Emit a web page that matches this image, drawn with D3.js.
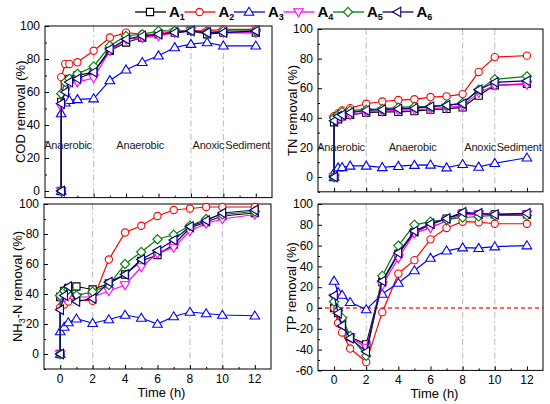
<!DOCTYPE html>
<html>
<head>
<meta charset="utf-8">
<script src="https://cdn.jsdelivr.net/npm/d3@7"></script>
<style>
  body { margin: 0; background: #fff; }
  svg text { font-family: "Liberation Sans", Arial, sans-serif; }
</style>
</head>
<body>
<div id="chart"></div>
<script>
// sampling times (h); the first two points of COD/TN/NH3 are both at t = 0
var timeA = [0, 0, 0.25, 0.5, 1, 2, 3, 4, 5, 6, 7, 8, 9, 10, 12];
var timeP = [0, 0.25, 0.5, 1, 2, 3, 4, 5, 6, 7, 8, 9, 10, 12];

var seriesNames = ["A1", "A2", "A3", "A4", "A5", "A6"];

// removal (%) per series A1..A6
var cod = [
  [0, 54, 63, 68, 70, 72, 85, 90, 93, 95, 96, 97, 95, 96, 96],
  [0, 69, 77, 77, 78, 85, 93, 96, 95, 95, 97, 97, 97, 98, 98],
  [0, 47, 53.5, 55, 55.5, 56, 67, 73.5, 78, 82, 87, 89, 90, 88, 88],
  [0, 51, 57, 65, 66, 68.5, 85, 92, 93, 94, 96, 97, 96, 96, 96],
  [0, 59, 66, 68, 71, 75.5, 88, 94, 95, 97, 97, 97, 96, 97, 97],
  [0, 53, 60, 66, 68, 72, 86, 92, 94, 95, 96, 97, 96, 96, 97]
];
var tn = [
  [0, 37, 39, 41, 42, 43.5, 44, 44, 44.5, 45.5, 46, 47, 55, 62, 63],
  [0, 41, 43, 45, 46.5, 49.5, 51, 52, 52.5, 54, 54.5, 56, 71, 81, 82],
  [0, 3, 6.3, 6.5, 7.5, 7.5, 6.5, 7.3, 8, 8.2, 6.3, 8.6, 6.8, 9.3, 13],
  [0, 39, 40, 41, 42, 44, 44.5, 45, 45.5, 46, 47, 48, 57, 62, 62.5],
  [0, 40, 42, 44, 45, 45.5, 46, 47, 47.5, 47.5, 48.5, 50, 59, 66, 68],
  [0, 38, 41, 42, 43.5, 45, 45.5, 46, 46.5, 47.5, 48.5, 49.5, 59, 64, 65]
];
var nh3 = [
  [0, 38, 42, 44, 45, 43, 47, 53, 62, 66, 73, 84, 88, 92, 94],
  [0, 31, 33, 35, 36, 35.5, 63, 81, 85.5, 92, 96, 97, 98, 98, 98],
  [0, 15, 18, 21, 23.5, 20.5, 23, 26, 24, 20, 25, 28, 27, 26, 25.5],
  [0, 37, 38, 39, 38, 38, 42, 46, 58, 67, 71, 82, 87, 90, 93],
  [0, 39, 42, 43, 39, 41.5, 46, 60, 68, 76.5, 79.5, 85.5, 90, 93, 95],
  [0, 29.5, 39, 45, 35, 37, 48, 53, 63, 69, 76, 85, 89, 94, 96]
];
var tp = [
  [0, -5, -15, -28, -35, 25, 52, 73, 80, 86, 91, 90, 90, 90],
  [0, -14.5, -23.5, -39, -52, -4, 33, 46, 66, 77, 83, 82.5, 81, 81],
  [26, 15, 12.5, 5.5, -1.5, 13.5, 24, 36, 48, 55, 58, 57.5, 59, 60],
  [10, -3, -12, -28, -38, 22, 48, 72, 77, 84, 90, 90, 89, 90],
  [6, -2.5, -9.5, -27, -46, 31, 60, 80, 83, 85, 87, 88, 89, 89],
  [12, -5, -17, -29, -42, 26, 53, 74, 81, 86, 92, 91, 90, 91]
];

var xTicks = [0, 2, 4, 6, 8, 10, 12];
var phaseLines = [2, 8, 10];
var phaseLabels = ["Anaerobic", "Anaerobic", "Anoxic", "Sediment"];
var phaseStart = [-1.05, 3.4, 8.1, 10.12];

var colors = ["#000000", "#ff0000", "#0000ff", "#ff00ff", "#008000", "#000080"];

var W = 550, H = 404;
var svg = d3.select("#chart").append("svg").attr("width", W).attr("height", H);

// marker shapes: square, circle, up, down, diamond, left
function markerPath(i) {
  var r = 3.6;
  if (i == 0) return "M" + (-r) + "," + (-r) + "H" + r + "V" + r + "H" + (-r) + "Z";
  if (i == 1) return d3.symbol(d3.symbolCircle, 42)();
  if (i == 4) return "M0," + (-r - 1) + "L" + (r + 1) + ",0L0," + (r + 1) + "L" + (-r - 1) + ",0Z";
  var a = r + 1.2, b = r * 0.9;
  var up = [[0, -a], [a, b], [-a, b]];
  var pts = up;
  if (i == 3) pts = up.map(p => [p[0], -p[1]]);
  if (i == 5) pts = up.map(p => [p[1], p[0]]);
  return "M" + pts.map(p => p.join(",")).join("L") + "Z";
}

var panels = [
  {data: cod, t: timeA, x0: 45, x1: 272, yDom: [-4, 100], yTop: 26, yZero: 191, ticks: d3.range(0, 101, 20), xlab: false, title: "COD removal (%)", tx: 20, labels: true, labelY: 145},
  {data: tn, t: timeA, x0: 318, x1: 543, yDom: [-10, 100], yTop: 29, yZero: 177, ticks: d3.range(0, 101, 20), xlab: false, title: "TN removal (%)", tx: 292, labels: true, labelY: 147},
  {data: nh3, t: timeA, x0: 44, x1: 271, yDom: [-10, 100], yTop: 204, yZero: 354, ticks: d3.range(0, 101, 20), xlab: true, title: "NH3", tx: 17, labels: false},
  {data: tp, t: timeP, x0: 318, x1: 543, yDom: [-60, 100], yTop: 204, yZero: 308, ticks: d3.range(-60, 101, 20), xlab: true, title: "TP removal (%)", tx: 291, labels: false, zeroLine: true}
];

panels.forEach(function(p) {
  var x = d3.scaleLinear().domain([-1, 13]).range([p.x0, p.x1]);
  var y = d3.scaleLinear().domain([0, 100]).range([p.yZero, p.yTop]);
  var yMin = y(p.yDom[0]), yMax = y(p.yDom[1]);
  var g = svg.append("g");

  // phase dash-dot lines
  phaseLines.forEach(function(t) {
    g.append("line").attr("x1", x(t)).attr("x2", x(t)).attr("y1", yMax).attr("y2", yMin)
      .attr("stroke", "#b8b8b8").attr("stroke-width", 1).attr("stroke-dasharray", "6,3,1.5,3");
  });
  if (p.zeroLine) {
    g.append("line").attr("x1", p.x0).attr("x2", p.x1).attr("y1", y(0)).attr("y2", y(0))
      .attr("stroke", "#ff3030").attr("stroke-width", 1.6).attr("stroke-dasharray", "4,3");
  }

  // frame
  g.append("rect").attr("x", p.x0).attr("y", yMax).attr("width", p.x1 - p.x0).attr("height", yMin - yMax)
    .attr("fill", "none").attr("stroke", "#000").attr("stroke-width", 1);

  // y axis (ticks inward)
  g.append("g").attr("transform", "translate(" + p.x0 + ",0)")
    .call(d3.axisRight(y).tickValues(p.ticks).tickSize(4).tickFormat(""));
  var minorY = d3.range(p.yDom[0] < 0 ? Math.ceil(p.yDom[0] / 10) * 10 : 0, 101, 10).filter(v => p.ticks.indexOf(v) < 0);
  g.append("g").attr("transform", "translate(" + p.x0 + ",0)")
    .call(d3.axisRight(y).tickValues(minorY).tickSize(2).tickFormat(""));
  g.selectAll(".domain").remove();
  p.ticks.forEach(function(v) {
    g.append("text").attr("x", p.x0 - 5).attr("y", y(v)).attr("dy", "0.35em")
      .attr("text-anchor", "end").attr("font-size", 12).text(v);
  });

  // x axis (ticks inward)
  g.append("g").attr("transform", "translate(0," + yMin + ")")
    .call(d3.axisTop(x).tickValues(xTicks).tickSize(4).tickFormat(""));
  g.append("g").attr("transform", "translate(0," + yMin + ")")
    .call(d3.axisTop(x).tickValues([1, 3, 5, 7, 9, 11]).tickSize(2).tickFormat(""));
  g.selectAll(".domain").remove();
  if (p.xlab) {
    xTicks.forEach(function(t) {
      g.append("text").attr("x", x(t)).attr("y", yMin + 14).attr("text-anchor", "middle")
        .attr("font-size", 12).text(t);
    });
    g.append("text").attr("x", (p.x0 + p.x1) / 2 + 4).attr("y", yMin + 28).attr("text-anchor", "middle")
      .attr("font-size", 13).text("Time (h)");
  }

  // axis title
  var tt = g.append("text")
    .attr("transform", "translate(" + p.tx + "," + ((yMax + yMin) / 2) + ") rotate(-90)")
    .attr("text-anchor", "middle").attr("dy", "0.35em").attr("font-size", 13);
  if (p.title == "NH3") {
    tt.append("tspan").text("NH");
    tt.append("tspan").attr("font-size", 9).attr("dy", 3).text("3");
    tt.append("tspan").attr("dy", -3).text("-N removal (%)");
  } else {
    tt.text(p.title);
  }

  // phase labels
  if (p.labels) {
    phaseLabels.forEach(function(l, i) {
      g.append("text").attr("x", x(phaseStart[i])).attr("y", p.labelY).attr("dy", "0.35em")
        .attr("font-size", 11).attr("letter-spacing", -0.2).attr("fill", "#222").text(l);
    });
  }

  // series
  var line = d3.line().x(d => x(d[0])).y(d => y(d[1]));
  p.data.forEach(function(vals, i) {
    var pts = vals.map((v, j) => [p.t[j], v]);
    g.append("path").attr("d", line(pts)).attr("fill", "none")
      .attr("stroke", colors[i]).attr("stroke-width", 1.2);
    g.selectAll(null).data(pts).enter().append("path")
      .attr("d", markerPath(i))
      .attr("transform", d => "translate(" + x(d[0]) + "," + y(d[1]) + ")")
      .attr("fill", "#fff").attr("stroke", colors[i]).attr("stroke-width", 1.1);
  });
});

// legend
var leg = svg.append("g");
seriesNames.forEach(function(name, i) {
  var cx = 150 + i * 49.5;
  leg.append("line").attr("x1", cx - 15).attr("x2", cx + 16).attr("y1", 12).attr("y2", 12)
    .attr("stroke", colors[i]).attr("stroke-width", 1.3);
  leg.append("path").attr("d", markerPath(i)).attr("transform", "translate(" + cx + ",12)")
    .attr("fill", "#fff").attr("stroke", colors[i]).attr("stroke-width", 1.1);
  var t = leg.append("text").attr("x", cx + 19).attr("y", 17)
    .attr("font-family", "'Liberation Serif', 'Times New Roman', serif")
    .attr("font-weight", "bold").attr("font-size", 15);
  t.append("tspan").text(name.charAt(0));
  t.append("tspan").attr("font-size", 9).attr("dy", 3).text(name.slice(1));
});
</script>
</body>
</html>
